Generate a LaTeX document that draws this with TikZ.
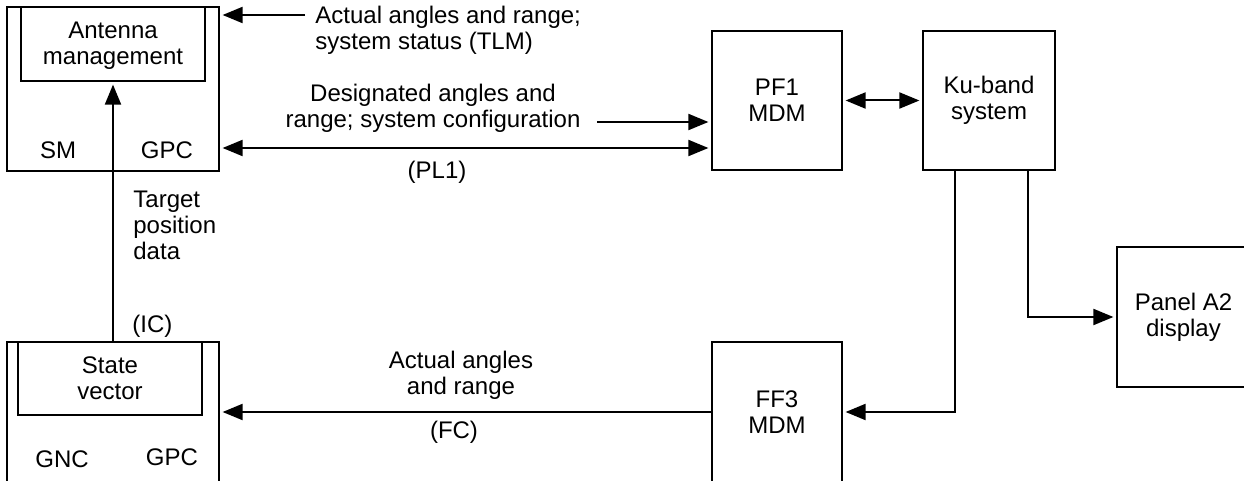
\documentclass[tikz,border=0pt]{standalone}
\usepackage{fontspec}
\setmainfont{Liberation Sans}
\usetikzlibrary{arrows.meta,calc,positioning}
\tikzset{
  boxnode/.style={draw,line width=0.6pt,inner sep=0pt,align=center,font=\fontsize{12}{13}\selectfont},
  sigarrow/.style={-{Triangle[length=10pt,width=8pt]},line width=1pt,shorten >=1.5pt},
  sigboth/.style={{Triangle[length=10pt,width=8pt]}-{Triangle[length=10pt,width=8pt]},line width=1pt,shorten >=1.5pt,shorten <=1.5pt},
  lbl/.style={inner sep=0pt,align=center,font=\fontsize{12}{13}\selectfont}
}

\begin{document}
\begin{tikzpicture}[x=0.5pt,y=-0.5pt]
\useasboundingbox (0,0) rectangle (1244,481);
\clip (0,0) rectangle (1244,481);
% onboard computers
\node[boxnode,minimum width=106pt,minimum height=82pt] (sm) at (113,89) {};
\node[boxnode,minimum width=92pt,minimum height=37pt] (amin) at (113,44) {};
\node[lbl] (amlbl) at (113,46) {Antenna\\management};
\node[lbl] (smlbl) at (58,150) {SM};
\node[lbl] (smgpc) at (167,150) {GPC};
\node[boxnode,minimum width=106pt,minimum height=70pt] (stout) at (113,412) {};
\node[boxnode,minimum width=92pt,minimum height=36.5pt] (stin) at (110,378.5) {State\\vector};
\node[lbl] (gnclbl) at (62,459) {GNC};
\node[lbl] (gncgpc) at (172,457) {GPC};
% MDMs, Ku-band and panel
\node[boxnode,minimum width=65pt,minimum height=69.5pt] (pf1) at (777,100.5) {PF1\\MDM};
\node[boxnode,minimum width=66pt,minimum height=69.5pt] (ku) at (989,100.5) {Ku-band\\system};
\node[boxnode,minimum width=65pt,minimum height=70pt] (ff3) at (777,412) {FF3\\MDM};
\node[boxnode,minimum width=66.5pt,minimum height=70pt] (panel) at (1183.5,317) {Panel A2\\display};
% signal paths
\coordinate (tlmstart) at (305,15);
\coordinate (desstart) at (597,122);
\coordinate (pl1) at (0,148);
\draw[sigarrow] (tlmstart) -- (tlmstart -| sm.east);
\draw[sigarrow] (desstart) -- (desstart -| pf1.west);
\draw[sigboth] (pl1 -| sm.east) -- (pl1 -| pf1.west);
\draw[sigboth] (pf1.east) -- (ku.west);
\draw[sigarrow] ($(ku.south)+(-34,0)$) |- (ff3.east);
\draw[sigarrow] ($(ku.south)+(39,0)$) |- (panel.west);
\draw[sigarrow] (ff3.west) -- (stout.east);
\draw[sigarrow] (amin.south |- stin.north) -- (amin.south);
% labels
\node[lbl,align=left,anchor=west] (tlmlbl) at (315,30) {Actual angles and range;\\system status (TLM)};
\node[lbl] (deslbl) at (433,108) {Designated angles and\\range; system configuration};
\node[lbl] (pl1lbl) at (437,172) {(PL1)};
\node[lbl,align=left,anchor=west] (tgtlbl) at (133,225) {Target\\position\\data};
\node[lbl,anchor=west] (iclbl) at (132,326) {(IC)};
\node[lbl] (fclbl) at (461,375) {Actual angles\\and range};
\node[lbl] (fcpath) at (454,432) {(FC)};
\end{tikzpicture}
\end{document}
